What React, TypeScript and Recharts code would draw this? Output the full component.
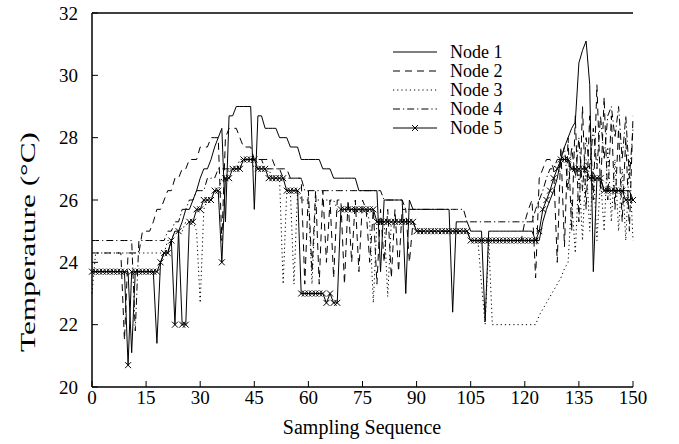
import React from 'react';
import { LineChart, Line, XAxis, YAxis, Legend } from 'recharts';

// sampling sequence 0..150, one reading per sample for each node
const node1 = [
  23.7, 23.7, 23.7, 23.7, 23.7, 23.7, 23.7, 23.7, 23.7, 23.7,
  23.7, 21.1, 23.7, 23.7, 23.7, 23.7, 23.7, 23.7, 21.4, 24.0,
  24.3, 24.3, 24.7, 25.0, 25.0, 25.3, 25.7, 25.7, 26.0, 26.3,
  26.7, 27.0, 27.0, 27.3, 27.7, 28.0, 28.3, 25.3, 28.7, 28.7,
  29.0, 29.0, 29.0, 29.0, 29.0, 25.7, 28.7, 28.7, 28.3, 28.3,
  28.3, 28.3, 28.0, 28.0, 28.0, 27.7, 27.7, 27.7, 27.3, 27.3,
  27.3, 27.3, 27.3, 27.3, 27.0, 27.0, 27.0, 26.7, 26.7, 26.7,
  26.7, 26.7, 26.7, 26.7, 26.3, 26.3, 26.3, 26.3, 26.3, 26.3,
  23.7, 26.0, 26.0, 26.0, 26.0, 26.0, 26.0, 23.0, 26.0, 25.7,
  25.7, 25.7, 25.7, 25.7, 25.7, 25.7, 25.7, 25.7, 25.7, 25.7,
  22.4, 25.3, 25.3, 25.3, 25.3, 25.0, 25.0, 25.0, 25.0, 22.1,
  25.0, 25.0, 25.0, 25.0, 25.0, 25.0, 25.0, 25.0, 25.0, 25.0,
  25.0, 25.0, 25.0, 24.7, 24.7, 25.3, 25.7, 26.0, 26.3, 26.7,
  27.3, 27.7, 28.0, 28.3, 28.5, 30.4, 30.8, 31.1, 29.7, 23.7,
  26.7, 26.7, 26.3, 26.3, 26.3, 26.3, 26.3, 26.3, 26.3, 26.3,
  26.0,
];

const node2 = [
  24.3, 24.3, 24.3, 24.3, 24.3, 24.3, 24.3, 24.3, 24.3, 21.5,
  24.3, 24.3, 24.3, 24.3, 25.0, 25.0, 25.0, 25.3, 25.7, 25.7,
  26.0, 26.3, 26.3, 26.7, 26.7, 27.0, 27.0, 27.3, 27.3, 27.3,
  27.7, 27.7, 27.7, 28.0, 28.0, 28.0, 24.7, 28.0, 28.3, 28.3,
  28.3, 28.0, 27.7, 27.7, 27.7, 27.3, 27.3, 27.3, 27.3, 27.3,
  27.3, 27.0, 27.0, 27.0, 27.0, 26.7, 26.7, 26.7, 26.7, 23.3,
  26.3, 23.7, 26.3, 23.3, 26.3, 24.0, 26.0, 23.5, 26.0, 26.0,
  23.3, 26.0, 24.0, 26.0, 23.7, 26.0, 25.7, 24.0, 25.7, 23.3,
  25.7, 24.0, 25.7, 23.5, 25.7, 23.7, 25.7, 25.7, 24.0, 25.3,
  25.0, 25.0, 25.0, 25.0, 25.0, 25.0, 25.0, 25.0, 25.0, 25.0,
  25.0, 25.0, 25.0, 25.0, 25.0, 24.7, 24.7, 24.7, 24.7, 24.7,
  24.7, 24.7, 24.7, 24.7, 24.7, 24.7, 24.7, 24.7, 24.7, 24.7,
  25.3, 25.7, 26.0, 23.5, 26.7, 27.0, 27.3, 27.3, 27.0, 24.0,
  27.7, 24.5, 28.0, 25.0, 28.7, 25.3, 29.0, 25.7, 28.7, 26.0,
  29.7, 26.3, 29.3, 26.0, 28.7, 25.7, 28.3, 25.3, 28.0, 25.0,
  28.7,
];

const node3 = [
  23.0, 24.3, 24.3, 24.3, 24.3, 24.3, 24.3, 24.3, 24.3, 24.3,
  24.3, 24.3, 24.3, 24.3, 24.3, 24.3, 24.3, 24.3, 24.3, 24.3,
  24.3, 24.7, 24.7, 25.0, 25.0, 25.0, 25.3, 25.3, 25.3, 25.0,
  22.7, 25.7, 26.0, 26.0, 26.3, 26.3, 26.7, 26.7, 27.0, 27.0,
  27.0, 27.3, 27.3, 27.3, 27.3, 27.0, 27.0, 27.0, 27.0, 27.0,
  26.7, 26.7, 26.7, 23.3, 26.3, 26.3, 23.3, 26.3, 26.0, 26.0,
  26.0, 23.3, 26.0, 26.0, 26.0, 26.0, 26.0, 26.0, 25.7, 25.7,
  25.7, 25.7, 25.7, 25.7, 25.7, 25.7, 25.7, 25.3, 22.7, 25.3,
  25.3, 25.3, 22.9, 25.3, 25.3, 25.3, 25.3, 25.3, 25.3, 25.3,
  25.0, 25.0, 25.0, 25.0, 25.0, 25.0, 25.0, 25.0, 25.0, 25.0,
  25.0, 25.0, 25.0, 25.0, 25.0, 24.7, 24.7, 24.7, 23.3, 22.0,
  24.7, 22.0, 22.0, 22.0, 22.0, 22.0, 22.0, 22.0, 22.0, 22.0,
  22.0, 22.0, 22.0, 22.0, 22.3, 22.5, 22.7, 22.9, 23.1, 23.3,
  23.5, 23.8, 24.0, 26.0, 24.3, 27.0, 24.7, 27.3, 25.0, 27.0,
  24.7, 26.7, 25.0, 27.7, 25.3, 27.3, 25.0, 27.0, 24.7, 27.3,
  24.7,
];

const node4 = [
  24.7, 24.7, 24.7, 24.7, 24.7, 24.7, 24.7, 24.7, 24.7, 24.7,
  24.7, 24.7, 21.8, 24.7, 24.7, 24.7, 24.7, 24.7, 24.7, 24.7,
  24.7, 25.0, 25.0, 25.3, 25.3, 25.7, 25.7, 26.0, 26.0, 26.3,
  26.3, 26.3, 26.7, 26.7, 26.7, 27.0, 27.0, 27.0, 27.0, 27.0,
  27.0, 27.0, 27.3, 27.3, 27.3, 27.3, 27.3, 27.3, 27.0, 27.0,
  27.0, 27.0, 27.0, 26.7, 26.7, 26.7, 26.7, 26.7, 26.7, 26.3,
  26.3, 26.3, 26.3, 26.3, 26.3, 26.3, 26.3, 26.3, 26.3, 26.3,
  26.3, 26.3, 26.3, 26.3, 26.3, 26.3, 26.3, 26.3, 26.3, 26.3,
  26.3, 26.0, 26.0, 26.0, 26.0, 26.0, 26.0, 25.7, 25.7, 25.7,
  25.7, 25.7, 25.7, 25.7, 25.7, 25.7, 25.7, 25.7, 25.7, 25.7,
  25.7, 25.7, 25.7, 25.7, 25.3, 25.3, 25.3, 25.3, 25.3, 25.3,
  25.3, 25.3, 25.3, 25.3, 25.3, 25.3, 25.3, 25.3, 25.3, 25.3,
  25.3, 25.3, 25.3, 25.7, 26.0, 26.3, 26.7, 27.0, 27.0, 27.3,
  27.3, 27.7, 26.3, 27.7, 26.7, 28.0, 26.3, 28.0, 27.0, 28.3,
  27.0, 28.7, 27.3, 28.7, 29.0, 28.0, 29.0, 27.3, 28.7, 26.7,
  28.3,
];

const node5 = [
  23.7, 23.7, 23.7, 23.7, 23.7, 23.7, 23.7, 23.7, 23.7, 23.7,
  20.7, 23.7, 23.7, 23.7, 23.7, 23.7, 23.7, 23.7, 23.7, 24.0,
  24.3, 24.3, 24.7, 22.0, 25.0, 22.0, 22.0, 25.3, 25.3, 25.7,
  25.7, 26.0, 26.0, 26.0, 26.3, 26.3, 24.0, 26.7, 26.7, 27.0,
  27.0, 27.0, 27.3, 27.3, 27.3, 27.3, 27.0, 27.0, 27.0, 26.7,
  26.7, 26.7, 26.7, 26.7, 26.3, 26.3, 26.3, 26.3, 23.0, 23.0,
  23.0, 23.0, 23.0, 23.0, 23.0, 22.7, 23.0, 22.7, 22.7, 25.7,
  25.7, 25.7, 25.7, 25.7, 25.7, 25.7, 25.7, 25.7, 25.7, 25.3,
  25.3, 25.3, 25.3, 25.3, 25.3, 25.3, 25.3, 25.3, 25.3, 25.3,
  25.0, 25.0, 25.0, 25.0, 25.0, 25.0, 25.0, 25.0, 25.0, 25.0,
  25.0, 25.0, 25.0, 25.0, 25.0, 24.7, 24.7, 24.7, 24.7, 24.7,
  24.7, 24.7, 24.7, 24.7, 24.7, 24.7, 24.7, 24.7, 24.7, 24.7,
  24.7, 24.7, 24.7, 24.7, 25.0, 25.7, 26.0, 26.3, 26.7, 27.0,
  27.3, 27.3, 27.3, 27.0, 27.0, 27.0, 27.0, 27.0, 26.7, 26.7,
  26.7, 26.7, 26.3, 26.3, 26.3, 26.3, 26.3, 26.3, 26.0, 26.0,
  26.0,
];

const xTicks = [0, 15, 30, 45, 60, 75, 90, 105, 120, 135, 150];
const yTicks = [20, 22, 24, 26, 28, 30, 32];

const seriesNames = ['Node 1', 'Node 2', 'Node 3', 'Node 4', 'Node 5'];

const data = node1.map((v, i) => ({
  x: i,
  n1: v,
  n2: node2[i],
  n3: node3[i],
  n4: node4[i],
  n5: node5[i],
}));

const FONT = 'Liberation Serif, Times New Roman, serif';
const dashes = [undefined, '7 5', '1.2 3', '7 3 1.2 3', undefined];

const Cross = (props: any) => {
  const { cx, cy, index } = props;
  if (cx == null || cy == null) return <g key={index} />;
  return (
    <path
      key={index}
      d={`M${cx - 3},${cy - 3}L${cx + 3},${cy + 3}M${cx - 3},${cy + 3}L${cx + 3},${cy - 3}`}
      stroke="#000"
      strokeWidth={1}
      fill="none"
    />
  );
};

const LegendBox = () => (
  <svg width={150} height={110}>
    {seriesNames.map((name, i) => {
      const y = 12 + i * 19;
      return (
        <g key={name}>
          <line x1={8} x2={52} y1={y} y2={y} stroke="#000" strokeWidth={1} strokeDasharray={dashes[i]} />
          {i === 4 && (
            <path d={`M27,${y - 3}L33,${y + 3}M27,${y + 3}L33,${y - 3}`} stroke="#000" strokeWidth={1} />
          )}
          <text x={65} y={y} dy="0.35em" fontFamily={FONT} fontSize={18} fill="#000">
            {name}
          </text>
        </g>
      );
    })}
  </svg>
);

const YTitle = () => (
  <text
    x={28}
    y={242}
    transform="rotate(-90 28 242)"
    textAnchor="middle"
    dy="0.35em"
    fontFamily={FONT}
    fontSize={21}
    fill="#000"
    textLength={220}
    lengthAdjust="spacingAndGlyphs"
  >
    Temperature (°C)
  </text>
);

const XTitle = () => (
  <text x={362} y={427} textAnchor="middle" dy="0.35em" fontFamily={FONT} fontSize={20} fill="#000">
    Sampling Sequence
  </text>
);

const tickStyle = { fontFamily: FONT, fontSize: 19, fill: '#000' };

const App: React.FC = () => {
  return (
    <div style={{ position: 'absolute', left: 0, top: 0, background: '#fff' }}>
      <LineChart width={679} height={444} data={data} margin={{ top: 12, right: 46, bottom: 0, left: 0 }}>
        <XAxis
          dataKey="x"
          type="number"
          domain={[0, 150]}
          ticks={xTicks}
          height={57}
          tickSize={-6}
          tickMargin={10}
          tick={tickStyle}
          stroke="#000"
          axisLine={{ stroke: '#000', strokeWidth: 1.5 }}
          tickLine={{ stroke: '#000' }}
          label={<XTitle />}
        />
        <XAxis
          xAxisId="top"
          orientation="top"
          dataKey="x"
          type="number"
          domain={[0, 150]}
          ticks={xTicks}
          height={1}
          tickSize={-6}
          tick={false}
          axisLine={{ stroke: '#000', strokeWidth: 1.5 }}
          tickLine={{ stroke: '#000' }}
        />
        <YAxis
          type="number"
          domain={[20, 32]}
          ticks={yTicks}
          width={92}
          tickSize={-6}
          tickMargin={20}
          tick={tickStyle}
          axisLine={{ stroke: '#000', strokeWidth: 1.5 }}
          tickLine={{ stroke: '#000' }}
          label={<YTitle />}
        />
        <YAxis
          yAxisId="right"
          orientation="right"
          type="number"
          domain={[20, 32]}
          ticks={yTicks}
          width={0}
          tickSize={-6}
          tick={false}
          axisLine={{ stroke: '#000', strokeWidth: 1.5 }}
          tickLine={{ stroke: '#000' }}
        />
        <Legend
          layout="vertical"
          align="center"
          verticalAlign="middle"
          content={<LegendBox />}
          wrapperStyle={{ left: 385, top: 40, width: 150, height: 110 }}
        />
        <Line dataKey="n1" stroke="#000" strokeWidth={1} dot={false} isAnimationActive={false} />
        <Line dataKey="n2" stroke="#000" strokeWidth={1} strokeDasharray={dashes[1]} dot={false} isAnimationActive={false} />
        <Line dataKey="n3" stroke="#000" strokeWidth={1} strokeDasharray={dashes[2]} dot={false} isAnimationActive={false} />
        <Line dataKey="n4" stroke="#000" strokeWidth={1} strokeDasharray={dashes[3]} dot={false} isAnimationActive={false} />
        <Line dataKey="n5" stroke="#000" strokeWidth={1} dot={Cross} isAnimationActive={false} />
      </LineChart>
    </div>
  );
};

export default App;
